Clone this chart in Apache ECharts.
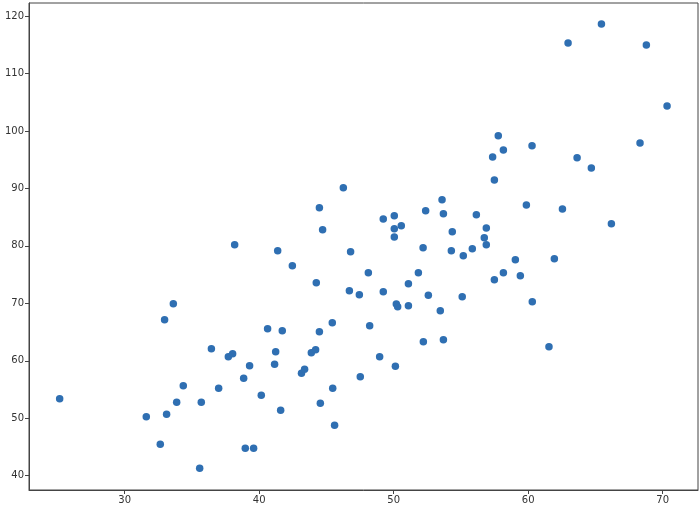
<!DOCTYPE html>
<html>
<head>
<meta charset="utf-8">
<script src="https://cdn.jsdelivr.net/npm/echarts@6/dist/echarts.min.js"></script>
<style>html,body{margin:0;padding:0;background:#fff}#c{width:700px;height:509px}</style>
</head>
<body>
<div id="c"></div>
<script>
const xValues = [25.17,31.61,32.65,32.97,33.12,33.62,33.87,34.36,35.58,35.70,36.45,36.99,37.71,38.03,38.18,38.85,38.97,39.29,39.59,40.16,40.63,41.15,41.23,41.38,41.6,41.72,42.47,43.15,43.38,43.88,44.2,44.25,44.48,44.48,44.55,44.72,45.44,45.47,45.61,46.26,46.71,46.8,47.45,47.52,48.12,48.22,48.96,49.23,49.23,50.05,50.05,50.05,50.13,50.2,50.3,50.57,51.1,51.1,51.84,52.19,52.21,52.38,52.58,53.47,53.6,53.7,53.70,54.29,54.36,55.1,55.18,55.85,56.15,56.74,56.89,56.89,57.36,57.49,57.49,57.78,58.16,58.16,59.05,59.42,59.87,60.29,60.31,61.55,61.95,62.55,62.97,63.64,64.7,65.45,66.19,68.32,68.79,70.33];
const yValues = [53.4,50.27,45.47,67.15,50.69,69.94,52.77,55.67,41.29,52.77,62.1,55.2,60.71,61.24,80.21,56.95,44.77,59.15,44.77,54.0,65.59,59.39,61.58,79.16,51.38,65.24,76.55,57.82,58.52,61.41,61.93,73.59,65.07,86.65,52.6,82.82,66.63,55.2,48.77,90.13,72.2,78.99,71.5,57.23,75.33,66.11,60.71,72.03,84.68,85.26,83.0,81.55,59.04,69.89,69.42,83.52,73.42,69.59,75.33,79.69,63.32,86.13,71.4,68.72,88.04,85.6,63.67,79.16,82.47,71.16,78.29,79.51,85.43,81.43,83.1,80.21,95.47,91.47,74.12,99.18,96.69,75.33,77.6,74.81,87.12,97.44,70.29,62.45,77.77,86.42,115.32,95.35,93.56,118.62,83.87,97.91,114.97,104.35];

const points = xValues.map((x, i) => [x, yValues[i]]);
const xMin = 22.89, xMax = 72.63, yMin = 37.51, yMax = 122.28;

const axisCommon = {
  type: 'value',
  splitLine: { show: false },
  axisLine: { show: true, onZero: false, lineStyle: { color: '#444', width: 1 } },
  axisTick: { show: true, length: 4, lineStyle: { color: '#444' } },
  axisLabel: {
    color: '#333', fontSize: 10, fontFamily: 'DejaVu Sans', margin: 5,
    showMinLabel: false, showMaxLabel: false
  }
};

const chart = echarts.init(document.getElementById('c'), null, { renderer: 'canvas' });
chart.setOption({
  animation: false,
  backgroundColor: '#fff',
  grid: { left: 29, right: 2, top: 3, bottom: 19, containLabel: false,
          show: true, borderColor: '#444', borderWidth: 1 },
  xAxis: Object.assign({}, axisCommon, { min: xMin, max: xMax, splitNumber: 5 }),
  yAxis: Object.assign({}, axisCommon, { min: yMin, max: yMax, splitNumber: 9 }),
  series: [{
    type: 'scatter',
    data: points,
    symbolSize: 7.5,
    itemStyle: { color: '#2f6fb2', opacity: 1 }
  }]
});
</script>
</body>
</html>
